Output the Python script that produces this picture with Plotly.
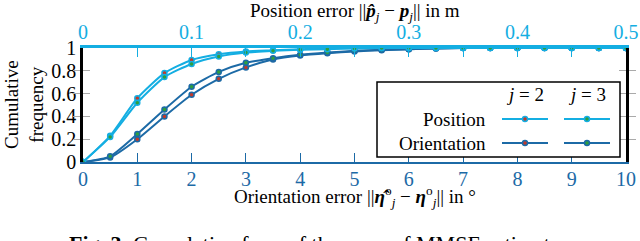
import plotly.graph_objects as go

# ---------------- data ----------------
orient_x = [0, 0.5, 1, 1.5, 2, 2.5, 3, 3.5, 4, 4.5, 5, 5.5, 6, 6.5, 7, 7.5, 8, 8.5, 9, 9.5, 10]
pos_x = [0, 0.025, 0.05, 0.075, 0.1, 0.125, 0.15, 0.175, 0.2, 0.225, 0.25, 0.275, 0.3,
         0.325, 0.35, 0.375, 0.4, 0.425, 0.45, 0.475, 0.5]

pos_j2 = [0, 0.23, 0.56, 0.78, 0.895, 0.945, 0.97, 0.98, 0.99, 0.995, 1, 1, 1, 1, 1, 1, 1, 1, 1, 1, 1]
pos_j3 = [0, 0.22, 0.52, 0.745, 0.86, 0.925, 0.96, 0.975, 0.985, 0.99, 0.995, 1, 1, 1, 1, 1, 1, 1, 1, 1, 1]
ori_j2 = [0, 0.04, 0.20, 0.40, 0.59, 0.73, 0.83, 0.90, 0.935, 0.955, 0.97, 0.98, 0.99, 0.995, 1, 1, 1, 1, 1, 1, 1]
ori_j3 = [0, 0.05, 0.245, 0.46, 0.66, 0.79, 0.87, 0.91, 0.94, 0.96, 0.975, 0.985, 0.99, 0.995, 1, 1, 1, 1, 1, 1, 1]

y_ticks = [0, 0.2, 0.4, 0.6, 0.8, 1]
legend_cols = ["<i>j</i> = 2", "<i>j</i> = 3"]
legend_rows = ["Position", "Orientation"]

LIGHT = "#14aee2"
DARK = "#1c6aa6"
FONT = "Liberation Serif"

fig = go.Figure()

def add(x, y, color, center, axis):
    fig.add_trace(go.Scatter(
        x=x, y=y, mode="lines+markers", xaxis=axis, yaxis="y",
        line=dict(color=color, width=2, shape="spline", smoothing=0.6),
        marker=dict(size=5, color=center, line=dict(color=color, width=1.5)),
        showlegend=False, hoverinfo="skip"))

add(orient_x, ori_j2, DARK, "#c0392b", "x")
add(orient_x, ori_j3, DARK, "#2e9e3e", "x")
add(pos_x, pos_j2, LIGHT, "#c0392b", "x2")
add(pos_x, pos_j3, LIGHT, "#2e9e3e", "x2")

# ---------------- layout ----------------
W, H = 640, 241
L, T = 83, 48
R = W - 626
B = H - 162
pw, ph = W - L - R, H - T - B

def px(xs):  # screen x -> paper
    return (xs - L) / pw

def py(ys):  # screen y -> paper
    return (H - B - ys) / ph

FS = 19
TFS = 20

fig.update_layout(
    width=W, height=H,
    margin=dict(l=L, r=R, t=T, b=B, pad=0, autoexpand=False),
    paper_bgcolor="white", plot_bgcolor="white",
    font=dict(family=FONT, size=FS, color="black"),
    showlegend=False,
    xaxis=dict(
        range=[0, 10], dtick=1, tick0=0, automargin=False,
        showgrid=False, zeroline=False,
        showline=True, linecolor=DARK, linewidth=2,
        ticks="inside", ticklen=9, tickcolor=DARK, tickwidth=1,
        tickfont=dict(color=DARK, size=TFS, family=FONT),
        ticklabelstandoff=-2,
    ),
    xaxis2=dict(
        range=[0, 0.5], dtick=0.1, tick0=0, overlaying="x", side="top", automargin=False,
        showgrid=False, zeroline=False,
        showline=True, linecolor=LIGHT, linewidth=2.5,
        ticks="inside", ticklen=9, tickcolor=LIGHT, tickwidth=1,
        minor=dict(dtick=0.05, ticks="inside", ticklen=9, tickcolor=LIGHT, tickwidth=1),
        tickfont=dict(color=LIGHT, size=TFS, family=FONT),
        ticklabelstandoff=-2,
    ),
    yaxis=dict(
        range=[0, 1], tickvals=y_ticks, automargin=False,
        showgrid=False, zeroline=False,
        showline=True, linecolor="black", linewidth=2.5, mirror="allticks",
        ticks="inside", ticklen=7, tickcolor="#aaaaaa", tickwidth=1,
        tickfont=dict(size=TFS, family=FONT),
    ),
)

# axis titles
fig.add_annotation(x=px(355), y=py(12), xref="paper", yref="paper",
                   text="Position error ||<b><i>p̂</i></b><sub><i>j</i></sub> − <b><i>p</i></b><sub><i>j</i></sub>|| in m",
                   showarrow=False, xanchor="center", yanchor="middle", font=dict(size=FS, family=FONT))
fig.add_annotation(x=px(355), y=py(196), xref="paper", yref="paper",
                   text="Orientation error ||<b><i>η̂</i></b><sup>o</sup><sub><i>j</i></sub> − <b><i>η</i></b><sup>o</sup><sub><i>j</i></sub>|| in °",
                   showarrow=False, xanchor="center", yanchor="middle", font=dict(size=FS, family=FONT))
fig.add_annotation(x=px(24), y=py(105), xref="paper", yref="paper",
                   text="Cumulative<br>frequency", textangle=-90,
                   showarrow=False, xanchor="center", yanchor="middle", font=dict(size=FS, family=FONT))

# ---------------- custom legend (2x2 table) ----------------
box = dict(x0=px(377), x1=px(620), y0=py(157), y1=py(82))
fig.add_shape(type="rect", xref="paper", yref="paper", **box,
              line=dict(color="black", width=1.5), fillcolor="white", layer="above")

col_centers = [525, 587]
row_y = [119, 143]
row_colors = [LIGHT, DARK]
centers = ["#c0392b", "#2e9e3e"]

for c, label in zip(col_centers, legend_cols):
    fig.add_annotation(x=px(c), y=py(94), xref="paper", yref="paper", text=label,
                       showarrow=False, xanchor="center", yanchor="middle",
                       font=dict(size=FS, family=FONT))
for r, label, col in zip(row_y, legend_rows, row_colors):
    fig.add_annotation(x=px(488), y=py(r), xref="paper", yref="paper", text=label,
                       showarrow=False, xanchor="right", yanchor="middle",
                       font=dict(size=FS, family=FONT))
    for c, cc in zip(col_centers, centers):
        fig.add_shape(type="line", xref="paper", yref="paper",
                      x0=px(c - 23), x1=px(c + 23), y0=py(r), y1=py(r),
                      line=dict(color=col, width=2), layer="above")
        fig.add_shape(type="circle", xref="paper", yref="paper",
                      x0=px(c - 2.5), x1=px(c + 2.5), y0=py(r + 2.5), y1=py(r - 2.5),
                      line=dict(color=col, width=1.5), fillcolor=cc, layer="above")

# caption (partly cut off at the bottom, as in the source)
fig.add_annotation(x=px(318), y=py(229), xref="paper", yref="paper",
                   text="<b>Fig. 3</b>: Cumulative freq. of the error of MMSE estimates",
                   showarrow=False, xanchor="center", yanchor="top",
                   font=dict(size=22, family=FONT))

fig.write_html("out.html",
               config={"displayModeBar": False},
               post_script="document.body.style.margin='0';document.body.style.overflow='hidden';")
